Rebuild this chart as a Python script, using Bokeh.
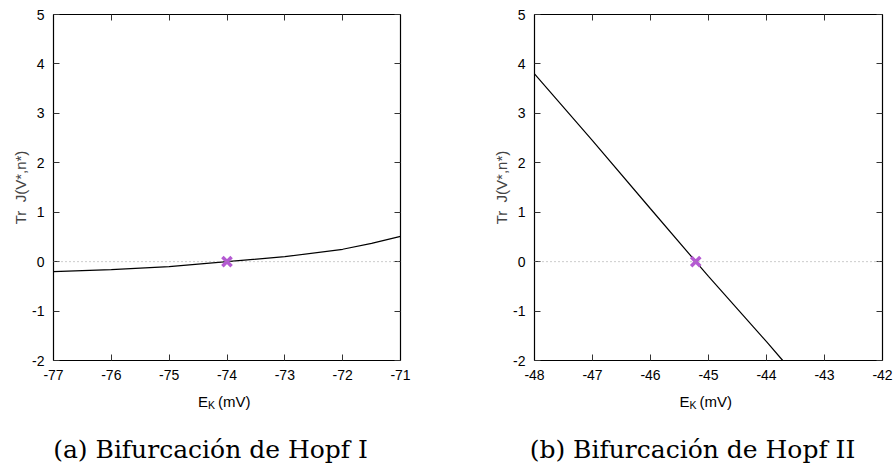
from bokeh.plotting import figure
from bokeh.layouts import row, column
from bokeh.models import LinearAxis, Span, FixedTicker, Range1d
from bokeh.core.properties import value
from bokeh.embed import file_html
from bokeh.resources import INLINE

# Panel (a)
ek_a = [-77, -76, -75, -74, -73, -72, -71.5, -71]
tr_a = [-0.20, -0.16, -0.10, 0.0, 0.10, 0.25, 0.37, 0.51]
hopf_a = (-74.0, 0.0)
xticks_a = [-77, -76, -75, -74, -73, -72, -71]

# Panel (b)
ek_b = [-48.0, -47.0, -46.0, -45.0, -44.0, -43.72]
tr_b = [3.80, 2.45, 1.07, -0.30, -1.62, -2.00]
hopf_b = (-45.22, 0.0)
xticks_b = [-48, -47, -46, -45, -44, -43, -42]

yticks = [-2, -1, 0, 1, 2, 3, 4, 5]
captions = ["(a) Bifurcación de Hopf I", "(b) Bifurcación de Hopf II"]
ylabel = "Tr\u00a0 J(V*,n*)"

SANS = "Liberation Sans"
SERIF = "DejaVu Serif"
PURPLE = "#b45ad2"
MAIN_H = 390
CAP_H = 472 - MAIN_H


def style_axis(ax, ticks, show_labels):
    ax.ticker = FixedTicker(ticks=ticks)
    ax.minor_tick_line_color = None
    ax.major_tick_in = 6
    ax.major_tick_out = 0
    ax.major_tick_line_color = "#333333"
    ax.axis_line_color = "black"
    ax.axis_line_width = 1.2
    if show_labels:
        ax.major_label_overrides = {t: str(t) for t in ticks}
        ax.major_label_text_font = SANS
        ax.major_label_text_font_size = "14px"
        ax.major_label_text_color = "black"
    else:
        ax.major_label_text_color = None
        ax.major_label_text_font_size = "1px"
        ax.major_label_standoff = 0


def panel(xs, ys, hopf, xticks, width, bl, br):
    x0, x1 = xticks[0], xticks[-1]
    p = figure(width=width, height=MAIN_H, output_backend="svg", toolbar_location=None,
               x_range=Range1d(x0, x1), y_range=Range1d(-2, 5),
               min_border_left=bl, min_border_right=br, min_border_top=14,
               min_border_bottom=MAIN_H - 360, x_axis_type=None, y_axis_type=None)
    p.outline_line_color = None
    p.xgrid.visible = False
    p.ygrid.visible = False

    bottom = LinearAxis()
    style_axis(bottom, xticks, True)
    bottom.major_label_standoff = 9
    p.add_layout(bottom, "below")
    top = LinearAxis()
    style_axis(top, xticks, False)
    p.add_layout(top, "above")
    left = LinearAxis()
    style_axis(left, yticks, True)
    left.major_label_standoff = 9
    left.axis_label = ylabel
    left.axis_label_text_font = SANS
    left.axis_label_text_font_style = "normal"
    left.axis_label_text_font_size = "15px"
    left.axis_label_standoff = 0
    p.add_layout(left, "left")
    right = LinearAxis()
    style_axis(right, yticks, False)
    p.add_layout(right, "right")

    p.add_layout(Span(location=0, dimension="width", line_color="#999999",
                      line_dash="1 3", line_width=1))
    p.line(xs, ys, line_color="black", line_width=1.2)
    p.scatter([hopf[0]], [hopf[1]], marker="x", size=13, line_color=PURPLE,
              line_width=3.5)
    return p


def caption_fig(width, frame_center, caption, cap_center):
    c = figure(width=width, height=CAP_H, output_backend="svg", toolbar_location=None,
               x_range=Range1d(0, width), y_range=Range1d(0, CAP_H),
               min_border=0, x_axis_type=None, y_axis_type=None)
    c.outline_line_color = None
    c.xgrid.visible = False
    c.ygrid.visible = False
    # axis label E_K (mV)
    base = CAP_H - (401 - MAIN_H)
    c.text(x=[frame_center - 19], y=[base], text=["E"], text_font=value(SANS),
           text_font_size="15px", text_align="right", text_baseline="alphabetic")
    c.text(x=[frame_center - 19], y=[base - 3], text=["K"], text_font=value(SANS),
           text_font_size="10.5px", text_align="left", text_baseline="alphabetic")
    c.text(x=[frame_center - 9], y=[base], text=["(mV)"], text_font=value(SANS),
           text_font_size="15px", text_align="left", text_baseline="alphabetic")
    # caption
    c.text(x=[cap_center], y=[CAP_H - (449 - MAIN_H)], text=[caption],
           text_font=value(SERIF), text_font_size="25px", text_align="center",
           text_baseline="alphabetic", text_color="black")
    return c


p1 = panel(ek_a, tr_a, hopf_a, xticks_a, 447, 53, 47)
p2 = panel(ek_b, tr_b, hopf_b, xticks_b, 448, 87, 13)
c1 = caption_fig(447, (53 + 400) / 2, captions[0], 210)
c2 = caption_fig(448, (534 - 447 + 882 - 447) / 2, captions[1], 692 - 447)
layout = column(row(p1, p2), row(c1, c2), spacing=0)

open("out.html", "w").write(file_html(layout, INLINE))
